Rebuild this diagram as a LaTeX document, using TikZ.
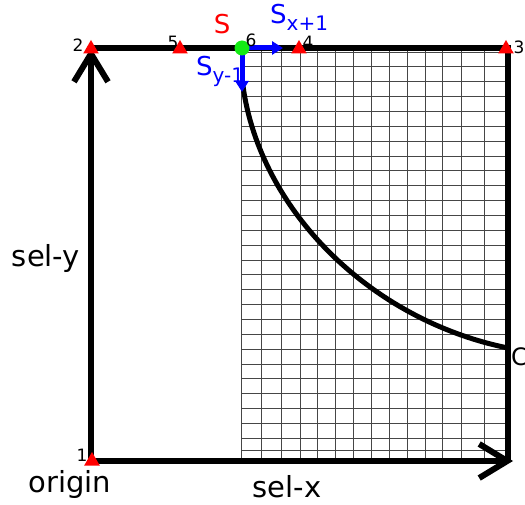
\documentclass[tikz,border=0pt]{standalone}
\usepackage{fontspec}
\setmainfont{DejaVu Sans}
\usetikzlibrary{arrows.meta, shapes.geometric, positioning}
\definecolor{PtRed}{RGB}{255,0,0}
\definecolor{SBlue}{RGB}{0,0,255}
\definecolor{SGreen}{RGB}{20,235,20}
\definecolor{GridGray}{RGB}{70,70,70}
\newcommand{\fsz}[1]{\fontsize{#1}{#1}\selectfont}
\tikzset{
  % assi e bordi
  axis/.style={line width=6pt,-{Straight Barb[length=28pt,width=34pt]}},
  border/.style={line width=6pt},
  grid line/.style={GridGray,line width=0.7pt},
  % punti
  corner/.style={regular polygon,regular polygon sides=3,fill=PtRed,inner sep=0pt,minimum size=18pt},
  state dot/.style={circle,fill=SGreen,inner sep=0pt,minimum size=15pt},
  num/.style={font=\fsz{17},inner sep=0pt},
  big label/.style={font=\fsz{29},inner sep=0pt},
  s label/.style={font=\fsz{26},inner sep=0pt},
  connect arrow/.style={SBlue,line width=5pt,-{Triangle[length=11pt,width=13pt]}}
}
\begin{document}
\begin{tikzpicture}[x=1pt,y=-1pt]
  \useasboundingbox (0,0) rectangle (525,505);
  % griglia
  \foreach \gx in {241,261,281,300,317,335,353,371,389,407,425,442,461,484}
    \draw[grid line] (\gx,48) -- (\gx,461);
  \foreach \i in {0,...,26}
    \draw[grid line] (241,52+14.85*\i) -- (508,52+14.85*\i);
  \draw[grid line] (241,450) -- (508,450);
  \coordinate (o) at (91,461);
  \coordinate (tl) at (91,48);
  \coordinate (tr) at (508,48);
  \coordinate (br) at (508,461);
  \coordinate (xend) at (513,461);
  \coordinate (c0) at (243,86);
  \coordinate (c1) at (508,348);
  \coordinate (sx) at (283,48);
  \coordinate (sy) at (242,92);
  \draw[border] (tl) -- (tr) -- (br);
  \draw[line width=5pt] (c0) .. controls (260,210) and (370,320) .. (c1);
  \draw[axis] (o) -- (tl);
  \draw[axis] (o) -- (xend);
  \node[corner] (p1) at (92,461) {};
  \node[corner] (p2) at (91,49) {};
  \node[corner] (p3) at (506,49) {};
  \node[corner] (p4) at (299,49) {};
  \node[corner] (p5) at (180,49) {};
  \draw[connect arrow] (242,48) -- (sx);
  \draw[connect arrow] (242,48) -- (sy);
  \node[state dot] (s) at (242,48) {};
  \node[num] (n1) at (82,455) {1};
  \node[num] (n2) at (78,45) {2};
  \node[num] (n3) at (519,47) {3};
  \node[num] (n4) at (308,42) {4};
  \node[num] (n5) at (173,42) {5};
  \node[num] (n6) at (251,40) {6};
  \node[s label,PtRed] (slab) at (222,24) {S};
  \node[s label,SBlue,anchor=west] (sxlab) at (270,17) {S\raisebox{-7pt}{\fsz{20}x+1}};
  \node[s label,SBlue,anchor=west] (sylab) at (196,71) {S\raisebox{-7pt}{\fsz{20}y-1}};
  \node[big label] (ylab) at (46,259) {sel-y};
  \node[big label] (xlab) at (287,487) {sel-x};
  \node[big label] (orig) at (70,484) {origin};
  \node[font=\fsz{24},inner sep=0pt,anchor=west] (clab) at (511,357) {C};
\end{tikzpicture}
\end{document}
